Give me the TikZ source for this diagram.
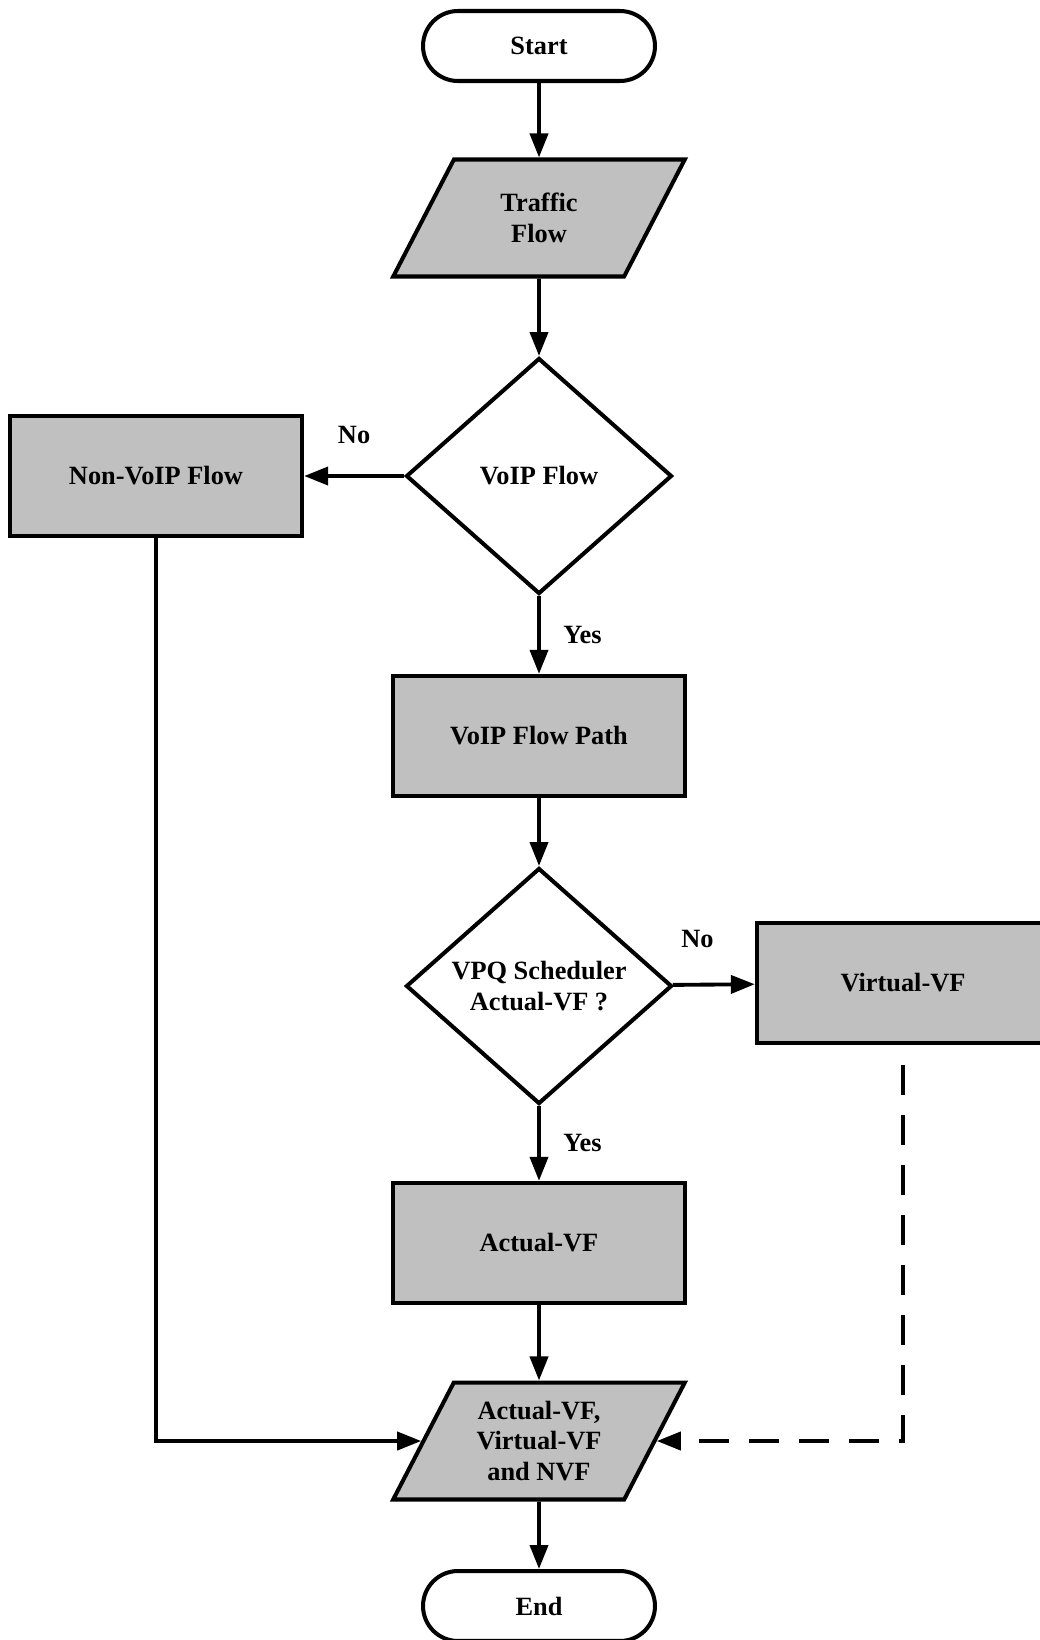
\documentclass[tikz,border=0pt]{standalone}
\usepackage{fontspec}
\setmainfont{Liberation Serif}
\usepackage{xcolor}
\usepackage{tikz}
\definecolor{boxgray}{RGB}{192,192,192}
\usetikzlibrary{shapes,arrows,positioning,calc,arrows.meta}

\begin{document}
\begin{tikzpicture}[x=0.02cm, y=-0.02cm,
        font=\fontsize{15}{17.5}\selectfont\bfseries,
        termbox/.style={draw, line width=2.3pt, rounded corners=0.7cm, minimum width=4.64cm, minimum height=1.4cm},
        iobox/.style={draw, line width=2.3pt, fill=boxgray, trapezium, trapezium left angle=61, trapezium right angle=119,
            trapezium stretches=true, minimum width=5.84cm, minimum height=2.34cm, inner sep=0pt, align=center},
        procbox/.style={draw, line width=2.5pt, fill=boxgray, minimum width=5.84cm, minimum height=2.4cm, align=center},
        decbox/.style={draw, line width=2.3pt, diamond, aspect=1.13, minimum width=5.32cm, minimum height=4.72cm,
            inner sep=0pt, align=center},
        flow/.style={-{Triangle[length=0.48cm,width=0.36cm]}, line width=2.2pt},
        lbl/.style={inner sep=0pt}]
        \useasboundingbox (0,0) rectangle (1040,1640);
        \clip (0,0) rectangle (1040,1640);

        % main column
        \node[termbox] (start) at (539,46) {Start};
        \node[iobox] (traffic) at (539,218) {Traffic\\Flow};
        \node[decbox] (voip) at (539,476) {VoIP Flow};
        \node[procbox] (nonvoip) at (156,476) {Non-VoIP Flow};
        \node[procbox] (voippath) at (539,736) {VoIP Flow Path};
        \node[decbox] (vpq) at (539,986) {VPQ Scheduler\\Actual-VF ?};
        \node[procbox] (virtualvf) at (903,983) {Virtual-VF};
        \node[procbox] (actualvf) at (539,1243) {Actual-VF};
        \node[iobox] (output) at (539,1441) {Actual-VF,\\Virtual-VF\\and NVF};
        \node[termbox] (end) at (539,1606) {End};

        % connectors
        \draw[flow] (start) -- (traffic);
        \draw[flow] (traffic) -- (voip);
        \draw[flow] (voip) -- node[lbl, pos=0.5, above=0.6cm] {No} (nonvoip);
        \draw[flow] (voip) -- node[lbl, pos=0.5, right=0.45cm] {Yes} (voippath);
        \draw[flow] (voippath) -- (vpq);
        \draw[flow] (vpq) -- node[lbl, pos=0.3, above=0.7cm] {No} (virtualvf);
        \draw[flow] (vpq) -- node[lbl, pos=0.5, right=0.45cm] {Yes} (actualvf);
        \draw[flow] (actualvf) -- (output);
        \draw[flow] (nonvoip.south) |- (output);
        \draw[flow, dash pattern=on 0.6cm off 0.4cm, dash phase=0.6cm] (virtualvf.south) |- (output);
        \draw[flow] (output) -- (end);
    \end{tikzpicture}
\end{document}
